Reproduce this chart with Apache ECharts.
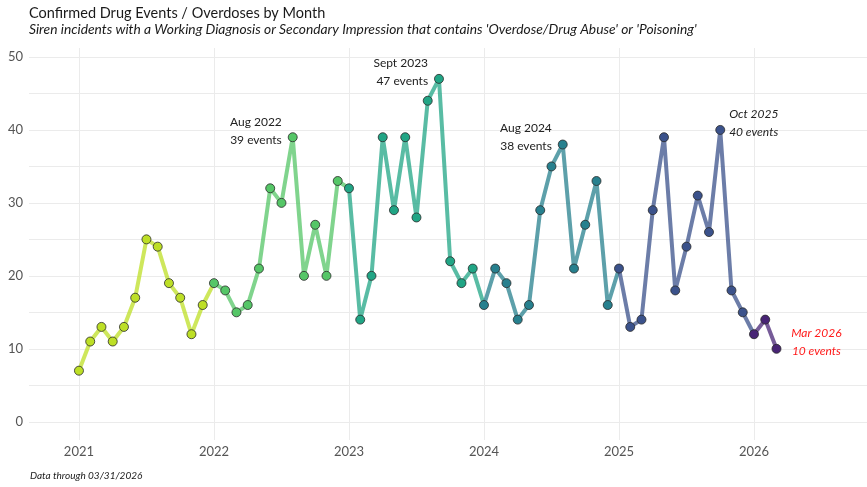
<!DOCTYPE html>
<html lang="en">
<head>
<meta charset="UTF-8">
<title>Confirmed Drug Events / Overdoses by Month</title>
<script src="https://cdn.jsdelivr.net/npm/echarts@6/dist/echarts.min.js"></script>
<style>
    html, body { margin: 0; padding: 0; background: #fff; }
    .chart { width: 867px; height: 487px; }
</style>
</head>
<body>
<div class="chart"></div>
<script>
    // monthly confirmed events, Jan..Dec
    var years = [2021, 2022, 2023, 2024, 2025, 2026]
    var events2021 = [7, 11, 13, 11, 13, 17, 25, 24, 19, 17, 12, 16]
    var events2022 = [19, 18, 15, 16, 21, 32, 30, 39, 20, 27, 20, 33]
    var events2023 = [32, 14, 20, 39, 29, 39, 28, 44, 47, 22, 19, 21]
    var events2024 = [16, 21, 19, 14, 16, 29, 35, 38, 21, 27, 33, 16]
    var events2025 = [21, 13, 14, 29, 39, 18, 24, 31, 26, 40, 18, 15]
    var events2026 = [12, 14, 10]
    var eventsByYear = [events2021, events2022, events2023, events2024, events2025, events2026]

    var xTickYears = [2021, 2022, 2023, 2024, 2025, 2026]
    var yTickLabels = [0, 10, 20, 30, 40, 50]
    var yGridValues = [0, 5, 10, 15, 20, 25, 30, 35, 40, 45, 50]

    // peaks that get a callout: [year, month, label]
    var callouts = [
        [2022, 8, 'Aug 2022'],
        [2023, 9, 'Sept 2023'],
        [2024, 8, 'Aug 2024'],
        [2025, 10, 'Oct 2025'],
        [2026, 3, 'Mar 2026']
    ]

    var yearColors = ['#bddf26', '#55c667', '#21a585', '#27808e', '#3b528b', '#482475']

    // callout placement
    var calloutStyle = {
        2022: { position: 'left', distance: 6, offset: [0, -6], color: '#222', fontStyle: 'normal' },
        2023: { position: 'left', distance: 6, offset: [0, -7], color: '#222', fontStyle: 'normal' },
        2024: { position: 'left', distance: 6, offset: [0, -7], color: '#222', fontStyle: 'normal' },
        2025: { position: 'right', distance: 4, offset: [0, -7], color: '#222', fontStyle: 'italic' },
        2026: { position: 'right', distance: 10, offset: [25, -7], color: '#ff1a1a', fontStyle: 'italic', align: 'center' }
    }

    function xOf(year, month) {
        return year + (month - 1) / 12
    }

    var series = []
    years.forEach(function (year, i) {
        var vals = eventsByYear[i]
        var linePts = vals.map(function (v, m) { return [xOf(year, m + 1), v] })
        // line runs on to January of the next year
        if (i + 1 < years.length) {
            linePts.push([xOf(years[i + 1], 1), eventsByYear[i + 1][0]])
        }
        series.push({
            type: 'line',
            data: linePts,
            symbol: 'none',
            z: 2,
            lineStyle: { color: yearColors[i], width: 4, opacity: 0.75 },
            silent: true
        })

        var pts = vals.map(function (v, m) {
            var item = { value: [xOf(year, m + 1), v] }
            callouts.forEach(function (c) {
                if (c[0] === year && c[1] === m + 1) {
                    var st = calloutStyle[year]
                    item.label = {
                        show: true,
                        position: st.position,
                        distance: st.distance,
                        offset: st.offset,
                        formatter: c[2] + '\n' + v + ' events',
                        color: st.color,
                        fontStyle: st.fontStyle,
                        fontFamily: 'Lato',
                        fontSize: 12,
                        lineHeight: 18,
                        align: st.align
                    }
                }
            })
            return item
        })
        series.push({
            type: 'scatter',
            data: pts,
            symbolSize: 9,
            z: 3,
            itemStyle: { color: yearColors[i], borderColor: '#2a2a2a', borderWidth: 0.8, opacity: 1 },
            silent: true
        })
    })

    var mCharts = echarts.init(document.querySelector('.chart'))
    var option = {
        animation: false,
        title: {
            text: 'Confirmed Drug Events / Overdoses by Month',
            subtext: "Siren incidents with a Working Diagnosis or Secondary Impression that contains 'Overdose/Drug Abuse' or 'Poisoning'",
            left: 24,
            top: 1,
            itemGap: 2,
            textStyle: { fontFamily: 'Lato', fontSize: 14.5, fontWeight: 'normal', color: '#1a1a1a' },
            subtextStyle: { fontFamily: 'Lato', fontSize: 13.8, fontStyle: 'italic', color: '#1a1a1a' }
        },
        graphic: [{
            type: 'text',
            left: 30,
            top: 471,
            style: { text: 'Data through 03/31/2026', fontFamily: 'Lato', fontSize: 10, fontStyle: 'italic', fill: '#1a1a1a' }
        }],
        grid: { left: 29, right: 0, top: 48, bottom: 47, containLabel: false },
        xAxis: {
            type: 'value',
            min: 2020.63,
            max: 2026.837,
            axisLine: { show: false },
            axisTick: { show: false, customValues: xTickYears },
            axisLabel: {
                customValues: xTickYears,
                formatter: function (v) { return String(Math.round(v)) },
                color: '#555',
                fontFamily: 'Lato',
                fontSize: 13,
                margin: 5
            },
            splitLine: { show: true, lineStyle: { color: '#ebebeb', width: 1 } }
        },
        yAxis: {
            type: 'value',
            min: -2.5,
            max: 51.23,
            axisLine: { show: false },
            axisTick: { show: false, customValues: yGridValues },
            axisLabel: {
                customValues: yTickLabels,
                color: '#555',
                fontFamily: 'Lato',
                fontSize: 13,
                margin: 6
            },
            splitLine: { show: true, lineStyle: { color: '#ebebeb', width: 1 } }
        },
        series: series
    }
    mCharts.setOption(option)
</script>
</body>
</html>
